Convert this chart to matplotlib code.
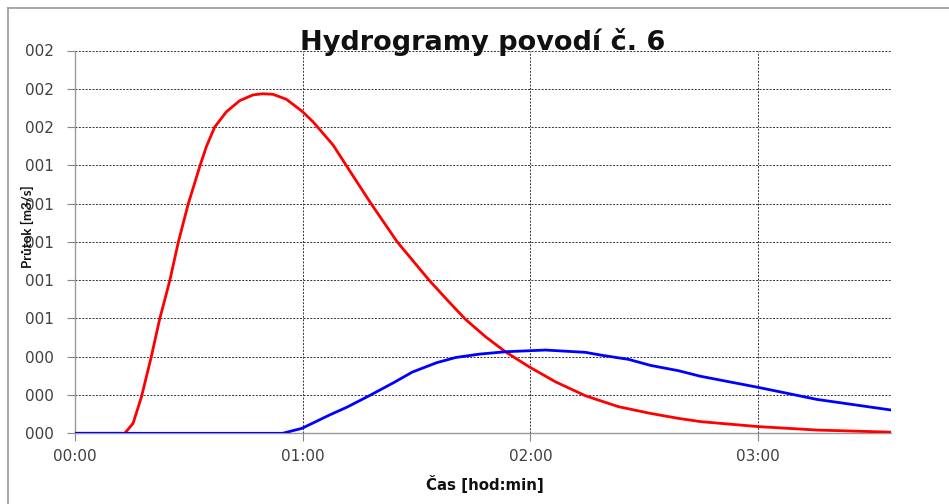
import numpy as np
import matplotlib.pyplot as plt
from matplotlib.lines import Line2D

# time in minutes, flow in m3/s
t_red = [0, 13.1, 15.3, 17.5, 20.1, 22.3, 25.0, 27.2, 29.8, 32.9, 34.6, 36.8, 39.9, 43.4,
         46.9, 49.5, 52.2, 55.7, 59.8, 62.7, 68.0, 72.3, 78.0, 84.9, 93.3, 98.1, 102.9,
         108.2, 113.4, 119.6, 126.6, 134.5, 143.2, 151.6, 159.0, 164.8, 180.0, 195.5, 214.9]
q_red = [0, 0, 0.052, 0.19, 0.40, 0.596, 0.80, 0.997, 1.196, 1.396, 1.497, 1.60, 1.680, 1.738,
         1.768, 1.774, 1.771, 1.745, 1.683, 1.628, 1.506, 1.374, 1.20, 1.00, 0.80, 0.696, 0.595,
         0.504, 0.426, 0.348, 0.269, 0.196, 0.139, 0.104, 0.078, 0.061, 0.035, 0.017, 0.006]

t_blue = [0, 54.7, 59.8, 67.0, 71.6, 77.5, 83.9, 88.9, 95.3, 100.3, 106.7, 113.4, 123.9,
          134.5, 138.4, 145.9, 151.6, 159.0, 164.8, 180.0, 195.5, 214.9]
q_blue = [0, 0, 0.026, 0.095, 0.136, 0.196, 0.264, 0.32, 0.369, 0.396, 0.414, 0.426, 0.435,
          0.423, 0.409, 0.386, 0.355, 0.327, 0.298, 0.24, 0.177, 0.122]

x_ticks = [0, 60, 120, 180]
x_labels = ["00:00", "01:00", "02:00", "03:00"]
y_ticks = [0, 0.2, 0.4, 0.6, 0.8, 1.0, 1.2, 1.4, 1.6, 1.8, 2.0]
y_labels = ["000", "000", "000", "001", "001", "001", "001", "001", "002", "002", "002"]

plt.rcParams['font.family'] = ['DejaVu Sans']

fig = plt.figure(figsize=(9.49, 5.04), dpi=100)
ax = fig.add_axes([75 / 949, 1 - 433.3 / 504, (891 - 75) / 949, (433.3 - 50.5) / 504])

ax.plot(t_red, q_red, color='#ff0000', lw=2.0, zorder=3)
ax.plot(t_blue, q_blue, color='#0000ff', lw=2.0, zorder=3)

ax.set_xlim(0, 215)
ax.set_ylim(0, 2.0)
ax.set_xticks(x_ticks)
ax.set_xticklabels(x_labels, fontsize=11, color='#404040')
ax.set_yticks(y_ticks)
ax.set_yticklabels(y_labels, fontsize=11, color='#404040')
ax.tick_params(axis='both', length=6, width=0.8, color='#888888')
ax.tick_params(axis='y', pad=9)
ax.tick_params(axis='x', pad=5)

ax.grid(True, color='#333333', linestyle=(0, (2, 1.5)), linewidth=0.7)
ax.set_axisbelow(True)
for side in ['top', 'right']:
    ax.spines[side].set_visible(False)
for side in ['left', 'bottom']:
    ax.spines[side].set_color('#999999')
    ax.spines[side].set_linewidth(1.0)

fig.text(485 / 949, 1 - 484 / 504, "Čas [hod:min]", fontsize=10.8, fontweight='bold',
         ha='center', va='center', color='#111111')
# y label sits over the tick labels, as in the original
fig.text(27 / 949, 1 - 227 / 504, "Průtok [m3/s]", fontsize=9.5, fontweight='bold',
         family=['Lato', 'DejaVu Sans'], rotation=90, ha='center', va='center', color='#111111')

fig.text(483 / 949, 1 - 50 / 504, "Hydrogramy povodí č. 6", fontsize=19.5, fontweight='bold',
         ha='center', va='baseline', color='#111111')

# outer frame (top and left only)
fig.add_artist(Line2D([8 / 949, 8 / 949], [0, 1 - 8 / 504], transform=fig.transFigure,
                      color='#999999', lw=1.2))
fig.add_artist(Line2D([8 / 949, 1], [1 - 8 / 504, 1 - 8 / 504], transform=fig.transFigure,
                      color='#999999', lw=1.2))

fig.savefig("out.png", dpi=100)
